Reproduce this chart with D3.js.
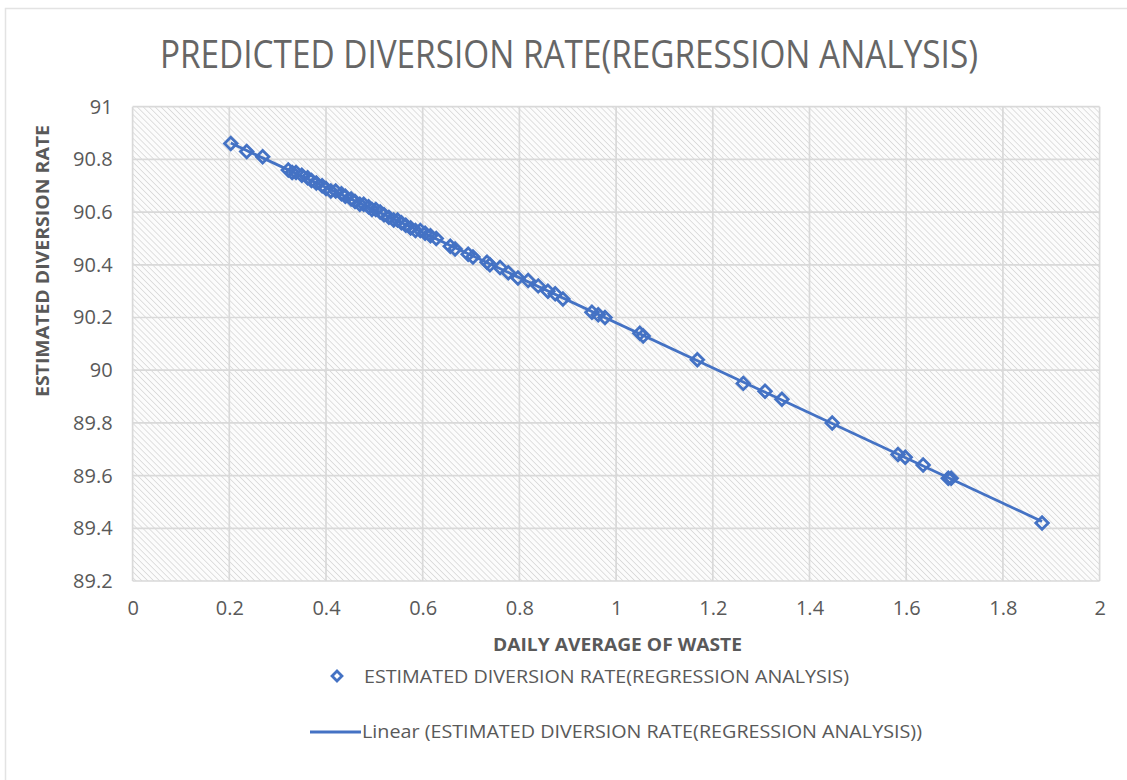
<!DOCTYPE html>
<html><head><meta charset="utf-8">
<script src="https://cdn.jsdelivr.net/npm/d3@7"></script>
<style>body{margin:0;background:#fff}svg{display:block}</style>
</head><body>
<svg id="c" width="1127" height="780"></svg>
<script>
// ---- data ----
const titleText = "PREDICTED DIVERSION RATE(REGRESSION ANALYSIS)";
const xAxisTitle = "DAILY AVERAGE OF WASTE";
const yAxisTitle = "ESTIMATED DIVERSION RATE";
const seriesName = "ESTIMATED DIVERSION RATE(REGRESSION ANALYSIS)";
const trendName = "Linear (ESTIMATED DIVERSION RATE(REGRESSION ANALYSIS))";
const dailyWaste = [0.203,0.236,0.269,0.322,0.330,0.338,0.350,0.362,0.370,0.380,0.392,0.400,0.410,0.420,0.432,0.440,0.452,0.460,0.470,0.478,0.488,0.495,0.503,0.512,0.520,0.530,0.540,0.548,0.556,0.565,0.575,0.585,0.595,0.605,0.616,0.628,0.657,0.667,0.694,0.704,0.733,0.739,0.760,0.777,0.797,0.818,0.839,0.859,0.874,0.890,0.950,0.963,0.977,1.049,1.056,1.168,1.263,1.308,1.343,1.447,1.583,1.598,1.635,1.687,1.693,1.881];
const diversionRate = [90.86,90.83,90.81,90.76,90.75,90.75,90.74,90.73,90.72,90.71,90.70,90.69,90.68,90.68,90.67,90.66,90.65,90.64,90.63,90.63,90.62,90.61,90.61,90.60,90.59,90.58,90.57,90.57,90.56,90.55,90.54,90.53,90.53,90.52,90.51,90.50,90.47,90.46,90.44,90.43,90.41,90.40,90.39,90.37,90.35,90.34,90.32,90.30,90.29,90.27,90.22,90.21,90.20,90.14,90.13,90.04,89.95,89.92,89.89,89.80,89.68,89.67,89.64,89.59,89.59,89.42];
const xTicks = [0,0.2,0.4,0.6,0.8,1,1.2,1.4,1.6,1.8,2];
const yTicks = [89.2,89.4,89.6,89.8,90,90.2,90.4,90.6,90.8,91];

// ---- layout ----
const svg = d3.select("#c");
const plot = {left:132.6, right:1099.6, top:106.7, bottom:581};
const blue = "#4472C4", grey = "#595959", gridC = "#d9d9d9";
const font = "'Open Sans', 'Liberation Sans', sans-serif";

const x = d3.scaleLinear().domain([0,2]).range([plot.left, plot.right]);
const y = d3.scaleLinear().domain([89.2,91]).range([plot.bottom, plot.top]);

// chart border
svg.append("rect").attr("x",5.5).attr("y",8.5).attr("width",1140).attr("height",800)
  .attr("fill","#fff").attr("stroke","#e3e3e3").attr("stroke-width",1.5);

// hatch pattern
const defs = svg.append("defs");
const pat = defs.append("pattern").attr("id","hatch").attr("patternUnits","userSpaceOnUse")
  .attr("width",4.2).attr("height",4.2).attr("patternTransform","rotate(-45)");
pat.append("rect").attr("width",4.2).attr("height",4.2).attr("fill","#fcfcfc");
pat.append("line").attr("x1",0).attr("y1",0).attr("x2",0).attr("y2",4.2)
  .attr("stroke","#cdcdcd").attr("stroke-width",1.2);

svg.append("rect").attr("x",plot.left).attr("y",plot.top)
  .attr("width",plot.right-plot.left).attr("height",plot.bottom-plot.top)
  .attr("fill","url(#hatch)");

// gridlines
svg.append("g").selectAll("line").data(xTicks).join("line")
  .attr("x1",d=>x(d)).attr("x2",d=>x(d)).attr("y1",plot.top).attr("y2",plot.bottom)
  .attr("stroke",gridC).attr("stroke-width",1.7);
svg.append("g").selectAll("line").data(yTicks).join("line")
  .attr("x1",plot.left).attr("x2",plot.right).attr("y1",d=>y(d)).attr("y2",d=>y(d))
  .attr("stroke",gridC).attr("stroke-width",1.7);

// axes (labels only)
const fmt = d3.format("");
const xAxis = svg.append("g").attr("transform",`translate(0,${plot.bottom})`)
  .call(d3.axisBottom(x).tickValues(xTicks).tickFormat(fmt).tickSize(0).tickPadding(20));
const yAxis = svg.append("g").attr("transform",`translate(${plot.left},0)`)
  .call(d3.axisLeft(y).tickValues(yTicks).tickFormat(fmt).tickSize(0).tickPadding(20));
[xAxis,yAxis].forEach(a=>{
  a.select(".domain").remove();
  a.selectAll("text").attr("fill",grey).style("font-family",font).style("font-size","20px");
});

// title
svg.append("text").attr("x",569).attr("y",68).attr("text-anchor","middle")
  .attr("textLength",818).attr("lengthAdjust","spacingAndGlyphs")
  .style("font-family",font).style("font-size","39px").attr("fill","#666").text(titleText);

// axis titles
svg.append("text").attr("x",617.5).attr("y",651).attr("text-anchor","middle")
  .attr("textLength",249).attr("lengthAdjust","spacingAndGlyphs")
  .style("font-family",font).style("font-size","17.5px").style("font-weight","bold")
  .attr("fill",grey).text(xAxisTitle);
svg.append("text").attr("transform","translate(49,261) rotate(-90)").attr("text-anchor","middle")
  .attr("textLength",272).attr("lengthAdjust","spacingAndGlyphs")
  .style("font-family",font).style("font-size","17.5px").style("font-weight","bold")
  .attr("fill",grey).text(yAxisTitle);

// linear trendline (least squares over the data)
const n = dailyWaste.length;
const mx = d3.mean(dailyWaste), my = d3.mean(diversionRate);
let sxy=0, sxx=0;
for(let i=0;i<n;i++){ sxy+=(dailyWaste[i]-mx)*(diversionRate[i]-my); sxx+=(dailyWaste[i]-mx)**2; }
const slope = sxy/sxx, icpt = my - slope*mx;
const ext = d3.extent(dailyWaste);
svg.append("path").datum(ext)
  .attr("d", d3.line().x(d=>x(d)).y(d=>y(icpt+slope*d)))
  .attr("stroke",blue).attr("stroke-width",2.8).attr("fill","none");

// markers
const diamond = d3.symbol().type(d3.symbolDiamond2).size(100);
svg.append("g").selectAll("path").data(dailyWaste.map((v,i)=>[v,diversionRate[i]])).join("path")
  .attr("transform",d=>`translate(${x(d[0])},${y(d[1])})`)
  .attr("d",diamond).attr("fill","none").attr("stroke",blue).attr("stroke-width",2.8);

// legend
svg.append("path").attr("transform","translate(337,676)").attr("d",d3.symbol().type(d3.symbolDiamond2).size(62))
  .attr("fill","none").attr("stroke",blue).attr("stroke-width",2.8);
svg.append("text").attr("x",364).attr("y",682.5).attr("textLength",485).attr("lengthAdjust","spacingAndGlyphs")
  .style("font-family",font).style("font-size","18.5px").attr("fill",grey).text(seriesName);
svg.append("line").attr("x1",310).attr("x2",361).attr("y1",732).attr("y2",732)
  .attr("stroke",blue).attr("stroke-width",2.8);
svg.append("text").attr("x",362).attr("y",738).attr("textLength",560).attr("lengthAdjust","spacingAndGlyphs")
  .style("font-family",font).style("font-size","18.5px").attr("fill",grey).text(trendName);
</script>
</body></html>
